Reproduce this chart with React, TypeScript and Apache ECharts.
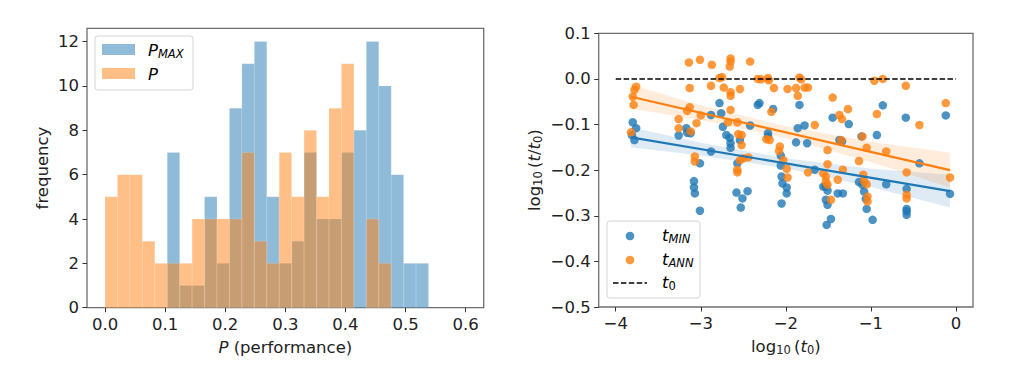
import React, { useEffect, useRef } from 'react';
import * as echarts from 'echarts';

// ---------- Left panel: histogram data ----------
const binWidth = 0.0207;
const pmaxStartBin = 5;
const pmaxCounts = [7, 1, 1, 5, 2, 9, 11, 12, 5, 2, 3, 7, 4, 4, 7, 8, 12, 10, 6, 2, 2];
const pStartBin = 0;
const pCounts = [5, 6, 6, 3, 2, 2, 2, 4, 4, 4, 4, 7, 3, 2, 7, 5, 8, 5, 9, 11, 0, 4, 2];
const histXTicks = [0, 0.1, 0.2, 0.3, 0.4, 0.5, 0.6];
const histYTicks = [0, 2, 4, 6, 8, 10, 12];

// ---------- Right panel: scatter data ----------
const tMinPoints: number[][] = [
  [-3.80, -0.095], [-3.76, -0.108], [-3.81, -0.123], [-3.78, -0.134], [-3.17, -0.108], [-3.26, -0.124],
  [-3.16, -0.118], [-3.12, -0.119], [-3.01, -0.185], [-3.08, -0.224], [-3.08, -0.238], [-3.07, -0.251],
  [-3.01, -0.289], [-2.78, -0.053], [-2.76, -0.075], [-2.88, -0.079], [-2.33, -0.057], [-2.31, -0.053],
  [-2.15, -0.066], [-2.74, -0.105], [-2.70, -0.123], [-2.66, -0.129], [-2.65, -0.141], [-2.65, -0.151],
  [-2.54, -0.134], [-2.42, -0.102], [-2.21, -0.119], [-2.21, -0.126], [-2.88, -0.159], [-2.57, -0.185],
  [-2.06, -0.168], [-2.06, -0.190], [-2.05, -0.214], [-2.04, -0.229], [-1.99, -0.238], [-1.99, -0.251],
  [-2.05, -0.273], [-2.58, -0.249], [-2.45, -0.246], [-2.51, -0.262], [-2.53, -0.282],
  [-1.84, -0.057], [-1.45, -0.085], [-1.78, -0.102], [-1.86, -0.108], [-1.26, -0.099], [-1.88, -0.139],
  [-1.75, -0.141], [-1.37, -0.134], [-1.34, -0.137], [-1.11, -0.126], [-0.93, -0.123], [-1.66, -0.199],
  [-1.56, -0.236], [-1.53, -0.236], [-1.51, -0.245], [-1.39, -0.251], [-1.33, -0.251], [-1.14, -0.226],
  [-1.10, -0.232], [-1.08, -0.247], [-1.06, -0.263], [-1.05, -0.285], [-0.98, -0.309], [-1.53, -0.265],
  [-1.51, -0.276], [-1.47, -0.307], [-1.52, -0.320],
  [-0.86, -0.058], [-0.59, -0.085], [-0.12, -0.080], [-0.43, -0.185], [-0.82, -0.231], [-0.58, -0.241],
  [-0.07, -0.252], [-0.58, -0.285], [-0.58, -0.290], [-0.58, -0.298],
];
const tAnnPoints: number[][] = [
  [-3.14, 0.036], [-3.01, 0.042], [-3.76, -0.017], [-3.78, -0.024], [-3.80, -0.039], [-3.79, -0.057],
  [-3.13, -0.020], [-3.13, -0.062], [-3.16, -0.070], [-3.26, -0.088], [-3.05, -0.097], [-3.00, -0.080],
  [-3.26, -0.108], [-3.12, -0.115], [-3.82, -0.117], [-3.07, -0.170], [-3.07, -0.181],
  [-2.87, 0.031], [-2.65, 0.045], [-2.65, 0.038], [-2.66, 0.027], [-2.42, 0.038], [-2.78, 0.002],
  [-2.75, 0.004], [-2.33, 0.0], [-2.29, -0.001], [-2.21, 0.002], [-2.20, -0.003], [-2.14, -0.020],
  [-1.98, -0.022], [-2.88, -0.015], [-2.73, -0.019], [-2.65, -0.029], [-2.65, -0.037], [-2.54, -0.022],
  [-2.65, -0.068], [-2.68, -0.095], [-2.57, -0.095], [-2.17, -0.072], [-2.56, -0.121], [-2.52, -0.123],
  [-2.52, -0.145], [-2.23, -0.132], [-2.19, -0.134], [-2.07, -0.148], [-2.08, -0.158], [-2.54, -0.178],
  [-2.50, -0.174], [-2.44, -0.172], [-2.57, -0.199], [-2.57, -0.205], [-2.03, -0.178], [-1.99, -0.197],
  [-1.98, -0.216],
  [-1.84, 0.003], [-1.82, -0.001], [-1.88, -0.020], [-1.78, -0.019], [-1.74, -0.019], [-1.86, -0.037],
  [-0.96, -0.004], [-1.45, -0.041], [-1.27, -0.066], [-1.37, -0.079], [-1.34, -0.088], [-0.93, -0.077],
  [-1.66, -0.101], [-1.10, -0.126], [-1.35, -0.134], [-1.05, -0.151], [-1.51, -0.156], [-1.14, -0.180],
  [-1.51, -0.187], [-1.33, -0.199], [-1.74, -0.205], [-1.56, -0.207], [-1.53, -0.214], [-1.53, -0.225],
  [-1.51, -0.232], [-1.39, -0.221], [-1.09, -0.210], [-1.08, -0.224], [-1.05, -0.231], [-1.04, -0.258],
  [-1.04, -0.269], [-1.47, -0.265],
  [-0.86, 0.0], [-0.59, -0.015], [-0.12, -0.053], [-0.43, -0.101], [-0.82, -0.159], [-0.58, -0.205],
  [-0.07, -0.216], [-0.58, -0.254], [-0.58, -0.262],
];
const fitX = [-3.82, -0.07];
const tMinFit = [-0.128, -0.246];
const tAnnFit = [-0.039, -0.200];
const bandX = [-3.82, -3.0, -2.0, -1.0, -0.07];
const tMinLo = [-0.150, -0.168, -0.196, -0.237, -0.282];
const tMinHi = [-0.106, -0.140, -0.174, -0.197, -0.210];
const tAnnLo = [-0.065, -0.090, -0.130, -0.182, -0.238];
const tAnnHi = [-0.013, -0.058, -0.104, -0.138, -0.162];
const refX = [-4, 0];
const refY = [0, 0];
const scatXTicks = [-4, -3, -2, -1, 0];
const scatYTicks = [-0.5, -0.4, -0.3, -0.2, -0.1, 0, 0.1];

const BLUE = '#1f77b4';
const ORANGE = '#ff7f0e';
const FONT = 'DejaVu Sans';
const FS = 16.5;
const TXT = '#222';

const rich = {
  n: { fontFamily: FONT, fontSize: FS, color: TXT, lineHeight: 24 },
  i: { fontFamily: FONT, fontSize: FS, color: TXT, fontStyle: 'italic', lineHeight: 24 },
  s: { fontFamily: FONT, fontSize: 11.5, color: TXT, padding: [7, 0, 0, 0] },
  si: { fontFamily: FONT, fontSize: 11.5, color: TXT, fontStyle: 'italic', padding: [7, 0, 0, 0] },
};

const minus = (s: string) => s.replace('-', '\u2212');

function histSeries(counts: number[], start: number, color: string) {
  const data = counts.map((c, k) => [(start + k) * binWidth, (start + k + 1) * binWidth, c]);
  return {
    type: 'custom',
    xAxisIndex: 0,
    yAxisIndex: 0,
    encode: { x: [0, 1], y: 2 },
    data,
    renderItem: (params: any, api: any) => {
      const h = api.value(2);
      if (!h) return null;
      const p0 = api.coord([api.value(0), h]);
      const p1 = api.coord([api.value(1), 0]);
      return {
        type: 'rect',
        shape: { x: p0[0], y: p0[1], width: p1[0] - p0[0], height: p1[1] - p0[1] },
        style: { fill: color, stroke: 'rgba(255,255,255,0.25)', lineWidth: 0.6 },
      };
    },
  };
}

function bandSeries(lo: number[], hi: number[], color: string) {
  const data = bandX.map((x, k) => [x, lo[k], hi[k]]);
  return {
    type: 'custom',
    xAxisIndex: 1,
    yAxisIndex: 1,
    encode: { x: 0, y: [1, 2] },
    data,
    silent: true,
    renderItem: (params: any, api: any) => {
      if (params.dataIndex !== 0) return null;
      const pts: number[][] = [];
      for (let k = 0; k < data.length; k++) pts.push(api.coord([data[k][0], data[k][2]]));
      for (let k = data.length - 1; k >= 0; k--) pts.push(api.coord([data[k][0], data[k][1]]));
      return { type: 'polygon', shape: { points: pts }, style: { fill: color } };
    },
  };
}

function lineSeries(xs: number[], ys: number[], color: string, width: number, type: any) {
  return {
    type: 'line',
    xAxisIndex: 1,
    yAxisIndex: 1,
    data: xs.map((x, k) => [x, ys[k]]),
    symbol: 'none',
    lineStyle: { color, width, type },
    silent: true,
  };
}

function scatterSeries(pts: number[][], color: string) {
  return {
    type: 'scatter',
    xAxisIndex: 1,
    yAxisIndex: 1,
    data: pts,
    symbolSize: 8.5,
    itemStyle: { color, opacity: 0.8 },
  };
}

const tickStyle = { show: true, length: 4.5, lineStyle: { color: '#333', width: 1 } };
const labelStyle = { fontFamily: FONT, fontSize: FS, color: TXT, margin: 8 };
const noLine = { show: false, onZero: false };
const gridStyle = {
  show: true,
  borderColor: '#6e6e6e',
  borderWidth: 1.3,
  backgroundColor: 'transparent',
  containLabel: false,
  outerBoundsMode: 'none',
};

function buildOption() {
  return {
    animation: false,
    grid: [
      { ...gridStyle, left: 87, top: 28.3, width: 396.7, height: 279.4 },
      { ...gridStyle, left: 598.7, top: 33.3, width: 374.3, height: 273.7 },
    ],
    xAxis: [
      {
        type: 'value', gridIndex: 0, min: -0.03, max: 0.63, position: 'bottom',
        splitLine: { show: false }, axisLine: noLine,
        axisTick: { ...tickStyle, customValues: histXTicks },
        axisLabel: { ...labelStyle, customValues: histXTicks, formatter: (v: number) => v.toFixed(1) },
        name: '{i|P}{n| (performance)}', nameLocation: 'middle', nameGap: 28,
        nameTextStyle: { rich },
      },
      {
        type: 'value', gridIndex: 1, min: -4.2, max: 0.2, position: 'bottom',
        splitLine: { show: false }, axisLine: noLine,
        axisTick: { ...tickStyle, customValues: scatXTicks },
        axisLabel: { ...labelStyle, customValues: scatXTicks, formatter: (v: number) => minus(String(Math.round(v))) },
        name: '{n|log}{s|10}{n|\u2009(}{i|t}{s|0}{n|)}', nameLocation: 'middle', nameGap: 27,
        nameTextStyle: { rich },
      },
    ],
    yAxis: [
      {
        type: 'value', gridIndex: 0, min: 0, max: 12.6, position: 'left',
        splitLine: { show: false }, axisLine: noLine,
        axisTick: { ...tickStyle, customValues: histYTicks },
        axisLabel: { ...labelStyle, customValues: histYTicks, formatter: (v: number) => String(Math.round(v)) },
        name: '{n|frequency}', nameLocation: 'middle', nameGap: 33, nameRotate: 90,
        nameTextStyle: { rich },
      },
      {
        type: 'value', gridIndex: 1, min: -0.5, max: 0.1, position: 'left',
        splitLine: { show: false }, axisLine: noLine,
        axisTick: { ...tickStyle, customValues: scatYTicks },
        axisLabel: {
          ...labelStyle, customValues: scatYTicks,
          formatter: (v: number) => (Math.abs(v) < 1e-9 ? '0.0' : minus(v.toFixed(1))),
        },
        name: '{n|log}{s|10}{n|\u2009(}{i|t}{n|/}{i|t}{s|0}{n|)}', nameLocation: 'middle', nameGap: 52, nameRotate: 90,
        nameTextStyle: { rich },
      },
    ],
    series: [
      histSeries(pmaxCounts, pmaxStartBin, 'rgba(31,119,180,0.5)'),
      histSeries(pCounts, pStartBin, 'rgba(255,127,14,0.5)'),
      scatterSeries(tMinPoints, BLUE),
      bandSeries(tMinLo, tMinHi, 'rgba(31,119,180,0.15)'),
      lineSeries(fitX, tMinFit, BLUE, 2.2, 'solid'),
      scatterSeries(tAnnPoints, ORANGE),
      bandSeries(tAnnLo, tAnnHi, 'rgba(255,127,14,0.15)'),
      lineSeries(fitX, tAnnFit, ORANGE, 2.2, 'solid'),
      lineSeries(refX, refY, '#000', 1.5, [5.5, 2.4]),
    ],
    graphic: [
      // left legend
      { type: 'rect', z: 100, shape: { x: 95, y: 36, width: 98, height: 54, r: 3 }, style: { fill: 'rgba(255,255,255,0.8)', stroke: '#d5d5d5', lineWidth: 1 } },
      { type: 'rect', z: 101, shape: { x: 102, y: 44, width: 33, height: 11 }, style: { fill: 'rgba(31,119,180,0.5)' } },
      { type: 'rect', z: 101, shape: { x: 102, y: 68, width: 33, height: 11 }, style: { fill: 'rgba(255,127,14,0.5)' } },
      { type: 'text', z: 101, x: 148, y: 50, style: { text: '{i|P}{si|MAX}', rich, verticalAlign: 'middle', align: 'left' } },
      { type: 'text', z: 101, x: 148, y: 74, style: { text: '{i|P}', rich, verticalAlign: 'middle', align: 'left' } },
      // right legend
      { type: 'rect', z: 100, shape: { x: 607, y: 221, width: 93, height: 77, r: 3 }, style: { fill: 'rgba(255,255,255,0.8)', stroke: '#d5d5d5', lineWidth: 1 } },
      { type: 'circle', z: 101, shape: { cx: 630, cy: 236, r: 4.3 }, style: { fill: BLUE, opacity: 0.8 } },
      { type: 'circle', z: 101, shape: { cx: 630, cy: 260, r: 4.3 }, style: { fill: ORANGE, opacity: 0.8 } },
      { type: 'line', z: 101, shape: { x1: 613, y1: 283, x2: 647, y2: 283 }, style: { stroke: '#000', lineWidth: 1.5, lineDash: [5.5, 2.4] } },
      { type: 'text', z: 101, x: 662, y: 235, style: { text: '{i|t}{si|MIN}', rich, verticalAlign: 'middle', align: 'left' } },
      { type: 'text', z: 101, x: 662, y: 259, style: { text: '{i|t}{si|ANN}', rich, verticalAlign: 'middle', align: 'left' } },
      { type: 'text', z: 101, x: 662, y: 282, style: { text: '{i|t}{s|0}', rich, verticalAlign: 'middle', align: 'left' } },
    ],
  };
}

export default function App() {
  const ref = useRef<HTMLDivElement>(null);
  useEffect(() => {
    if (!ref.current) return;
    const chart = echarts.init(ref.current, undefined, { renderer: 'svg' });
    chart.setOption(buildOption() as any);
    return () => chart.dispose();
  }, []);
  return (
    <div
      ref={ref}
      style={{ position: 'fixed', left: 0, top: 0, width: 1024, height: 376, background: '#fff' }}
    />
  );
}
